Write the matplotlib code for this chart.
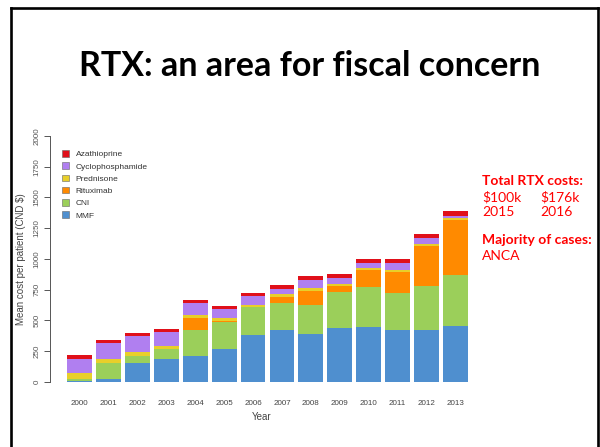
"""Slide: stacked mean cost per patient by drug, 2000-2013."""
import matplotlib
matplotlib.use('Agg')
import matplotlib.pyplot as plt
from matplotlib.lines import Line2D
from matplotlib.patches import Patch
import numpy as np

YEARS = [str(y) for y in range(2000, 2014)]
MMF = [5, 22, 150, 182, 209, 264, 378, 424, 386, 435, 449, 422, 422, 454]
CNI = [20, 128, 60, 82, 215, 226, 226, 215, 239, 299, 321, 299, 354, 416]
RITUXIMAB = [0, 0, 0, 0, 95, 5, 5, 54, 114, 49, 136, 169, 326, 443]
PREDNISONE = [43, 33, 30, 30, 24, 22, 19, 19, 22, 16, 19, 22, 22, 19]
CYCLOPHOSPHAMIDE = [120, 130, 136, 111, 95, 73, 71, 46, 68, 49, 41, 52, 44, 19]
AZATHIOPRINE = [27, 24, 24, 27, 27, 27, 24, 30, 30, 30, 33, 38, 38, 41]

SERIES = [('MMF', MMF, '#4f8fcf'),
          ('CNI', CNI, '#9bcf5a'),
          ('Rituximab', RITUXIMAB, '#ff8a00'),
          ('Prednisone', PREDNISONE, '#e8cf2a'),
          ('Cyclophosphamide', CYCLOPHOSPHAMIDE, '#b07ff0'),
          ('Azathioprine', AZATHIOPRINE, '#e0101a')]

W, H = 600, 447


def main():
    plt.rcParams['font.family'] = ['Liberation Sans', 'DejaVu Sans']
    fig = plt.figure(figsize=(6, 4.47), dpi=100)

    # slide frame
    fx = lambda px: px / W
    fy = lambda py: 1 - py / H
    for xs, ys in [((11, 11), (7.5, 447)), ((11, 598), (7.5, 7.5)),
                   ((598, 598), (7.5, 447))]:
        fig.add_artist(Line2D([fx(x) for x in xs], [fy(y) for y in ys],
                              color='black', lw=1.9))

    fig.text(fx(310), fy(66), 'RTX: an area for fiscal concern',
             ha='center', va='center', fontsize=24.5, fontweight='bold',
             family='Lato')

    # axes placed so that x=0 bar centre sits at 79.5px, y=0 at 381.7px
    px_per_x = 28.92
    px_per_y = 245.7 / 2000
    xlo, xhi = -1.02, 13.6
    ylo, yhi = -50, 2050
    left = 79.5 + xlo * px_per_x
    right = 79.5 + xhi * px_per_x
    bottom = 381.7 - ylo * px_per_y
    top = 381.7 - yhi * px_per_y
    ax = fig.add_axes([left / W, 1 - bottom / H, (right - left) / W,
                       (bottom - top) / H])

    x = np.arange(len(YEARS))
    base = np.zeros(len(YEARS))
    for name, vals, col in SERIES:
        ax.bar(x, vals, bottom=base, width=0.86, color=col, label=name,
               linewidth=0)
        base += np.array(vals)

    ax.set_xlim(xlo, xhi)
    ax.set_ylim(ylo, yhi)
    for s in ('top', 'right', 'bottom'):
        ax.spines[s].set_visible(False)
    ax.spines['left'].set_bounds(0, 2000)
    ax.spines['left'].set_color('#555555')
    ax.spines['left'].set_linewidth(0.7)

    ax.set_yticks(range(0, 2001, 250))
    ax.tick_params(axis='y', length=4, width=0.7, color='#555555',
                   labelsize=5.8, labelcolor='#555555', pad=3)
    for lab in ax.get_yticklabels():
        lab.set_rotation(90)
        lab.set_va('center')
    ax.set_xticks(x)
    ax.set_xticklabels(YEARS)
    ax.tick_params(axis='x', length=0, labelsize=5.8, labelcolor='#444444',
                   pad=9)
    ax.set_xlabel('Year', fontsize=7, color='#444444', labelpad=3)
    ax.set_ylabel('Mean cost per patient (CND $)', fontsize=7,
                  color='#444444', labelpad=5)

    handles = [Patch(facecolor=c, edgecolor='#666666', lw=0.4, label=n)
               for n, v, c in SERIES[::-1]]
    ax.legend(handles=handles, loc='upper left',
              bbox_to_anchor=(9 / (right - left), 1 - 17 / (bottom - top)),
              frameon=False, fontsize=6, handlelength=0.8,
              handleheight=0.8, handletextpad=0.8, labelspacing=0.5,
              borderaxespad=0, labelcolor='#333333')

    red = '#ff0000'
    fs = 10
    fig.text(fx(482), fy(181), 'Total RTX costs:', color=red, fontsize=fs,
             fontweight='bold', family='Lato', va='center')
    fig.text(fx(482), fy(197), '$100k', color=red, fontsize=fs,
             family='Lato', va='center')
    fig.text(fx(540), fy(197), '$176k', color=red, fontsize=fs,
             family='Lato', va='center')
    fig.text(fx(482), fy(212), '2015', color=red, fontsize=fs,
             family='Lato', va='center')
    fig.text(fx(540), fy(212), '2016', color=red, fontsize=fs,
             family='Lato', va='center')
    fig.text(fx(482), fy(240), 'Majority of cases:', color=red, fontsize=fs,
             fontweight='bold', family='Lato', va='center')
    fig.text(fx(482), fy(256), 'ANCA', color=red, fontsize=fs,
             family='Lato', va='center')

    fig.savefig('out.png', dpi=100)


if __name__ == '__main__':
    main()
